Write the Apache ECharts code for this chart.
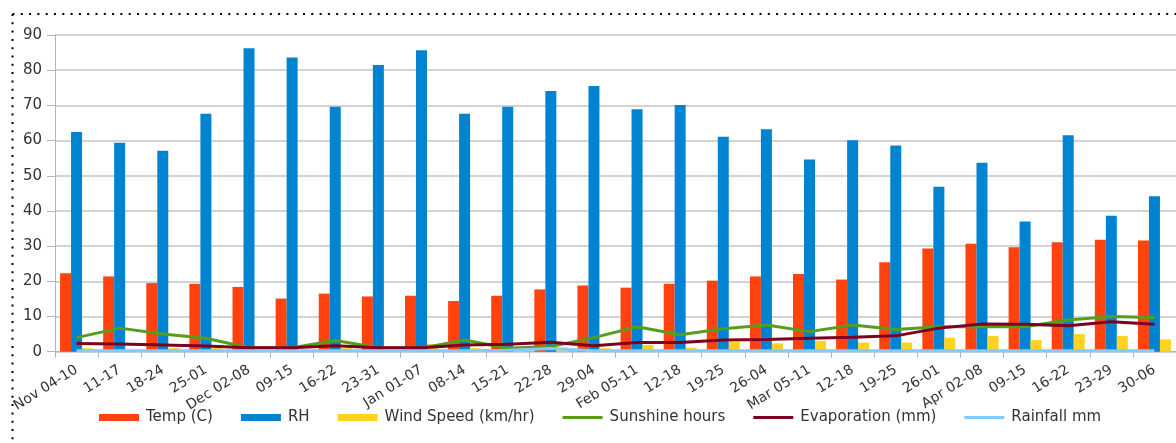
<!DOCTYPE html>
<html>
<head>
<meta charset="utf-8">
<script src="https://cdn.jsdelivr.net/npm/echarts@6/dist/echarts.min.js"></script>
<style>
html,body{margin:0;padding:0;background:#fff;}
#chart{width:1176px;height:443px;}
</style>
</head>
<body>
<div id="chart"></div>
<script>
const categories = ['Nov 04-10','11-17','18-24','25-01','Dec 02-08','09-15','16-22','23-31','Jan 01-07','08-14','15-21','22-28','29-04','Feb 05-11','12-18','19-25','26-04','Mar 05-11','12-18','19-25','26-01','Apr 02-08','09-15','16-22','23-29','30-06'];
const yTicks = [0,10,20,30,40,50,60,70,80,90];
const temp = [22.3,21.4,19.5,19.3,18.4,15.1,16.5,15.7,15.9,14.4,15.9,17.7,18.8,18.2,19.3,20.2,21.4,22.1,20.5,25.4,29.3,30.7,29.7,31.1,31.8,31.6];
const rh = [62.4,59.4,57.1,67.6,86.2,83.6,69.6,81.5,85.7,67.6,69.6,74.1,75.5,68.9,70.1,61.1,63.2,54.6,60.1,58.6,46.9,53.7,37.0,61.5,38.6,44.2];
const wind = [1.0,0.3,1.0,1.0,0.2,0.2,1.0,0.3,2.2,1.0,0.2,1.2,1.0,1.9,1.1,2.8,2.4,3.1,2.6,2.6,4.0,4.5,3.3,5.0,4.5,3.5];
const sunshine = [4.0,6.7,5.0,3.8,1.1,1.1,3.2,1.1,1.0,3.3,1.0,1.5,4.0,7.1,4.8,6.5,7.6,5.7,7.6,6.3,7.1,7.1,7.1,9.0,10.0,9.7];
const evaporation = [2.3,2.2,1.9,1.6,1.1,1.1,1.7,1.1,1.1,1.9,2.1,2.7,1.7,2.6,2.6,3.3,3.5,3.8,4.1,4.5,6.7,7.9,7.8,7.4,8.5,7.8];
const rainfall = [0.3,0.3,0.3,0.3,0.3,0.3,0.3,0.3,0.3,0.3,0.4,0.9,0.3,0.3,0.3,0.3,0.3,0.3,0.3,0.3,0.3,0.3,0.3,0.3,0.3,0.3];

const FONT = 'DejaVu Sans';
const LINE_ICON = 'path://M0,0 L40,0 L40,3 L0,3 Z';
const chart = echarts.init(document.getElementById('chart'), null, {renderer:'canvas'});
const barCommon = {type:'bar', barWidth:11, barGap:'0%', barCategoryGap:'22%'};
const lineCommon = {type:'line', symbol:'none', showSymbol:false, smooth:false};
chart.setOption({
  animation:false,
  backgroundColor:'#ffffff',
  grid:{left:55, right:-2, top:35, bottom:91.3, containLabel:false},
  legend:{
    left:94, top:405, itemWidth:40, itemHeight:7, itemGap:28,
    textStyle:{fontFamily:FONT, fontSize:15, color:'#333', padding:[0,0,0,2]},
    data:[
      {name:'Temp (C)', icon:'rect'},
      {name:'RH', icon:'rect'},
      {name:'Wind Speed (km/hr)', icon:'rect'},
      {name:'Sunshine hours', icon:LINE_ICON, itemStyle:{color:'#579d1c', borderWidth:0}, lineStyle:{width:0}},
      {name:'Evaporation (mm)', icon:LINE_ICON, itemStyle:{color:'#7e0021', borderWidth:0}, lineStyle:{width:0}},
      {name:'Rainfall mm', icon:LINE_ICON, itemStyle:{color:'#83caff', borderWidth:0}, lineStyle:{width:0}}
    ]
  },
  xAxis:{
    type:'category', data:categories, boundaryGap:true,
    axisLine:{lineStyle:{color:'#b3b3b3', width:1}},
    axisTick:{show:true, length:6, lineStyle:{color:'#b3b3b3'}},
    axisLabel:{rotate:32, interval:0, margin:17, fontFamily:FONT, fontSize:14, color:'#333'}
  },
  yAxis:{
    type:'value', min:yTicks[0], max:yTicks[yTicks.length-1], interval:10,
    axisLine:{show:true, lineStyle:{color:'#b3b3b3', width:1}},
    axisTick:{show:true, length:8, lineStyle:{color:'#b3b3b3'}},
    axisLabel:{margin:13, fontFamily:FONT, fontSize:15, color:'#333'},
    splitLine:{show:true, lineStyle:{color:'#c4c4c4', width:1.5}}
  },
  series:[
    Object.assign({name:'Temp (C)', data:temp, itemStyle:{color:'#ff420e'}}, barCommon),
    Object.assign({name:'RH', data:rh, itemStyle:{color:'#0084d1'}}, barCommon),
    Object.assign({name:'Wind Speed (km/hr)', data:wind, itemStyle:{color:'#ffd320'}}, barCommon),
    Object.assign({name:'Sunshine hours', data:sunshine, itemStyle:{color:'#579d1c'}, lineStyle:{color:'#579d1c', width:3}, z:3}, lineCommon),
    Object.assign({name:'Evaporation (mm)', data:evaporation, itemStyle:{color:'#7e0021'}, lineStyle:{color:'#7e0021', width:3}, z:4}, lineCommon),
    Object.assign({name:'Rainfall mm', data:rainfall, itemStyle:{color:'#83caff'}, lineStyle:{color:'#83caff', width:3}, z:5}, lineCommon)
  ],
  graphic:[
    {type:'line', shape:{x1:12.5, y1:14, x2:12.5, y2:443}, style:{stroke:'#000', lineWidth:2, lineDash:[2,6.3]}, silent:true},
    {type:'line', shape:{x1:12.5, y1:14, x2:1176, y2:14}, style:{stroke:'#000', lineWidth:2, lineDash:[2,6.3]}, silent:true}
  ]
});
</script>
</body>
</html>
